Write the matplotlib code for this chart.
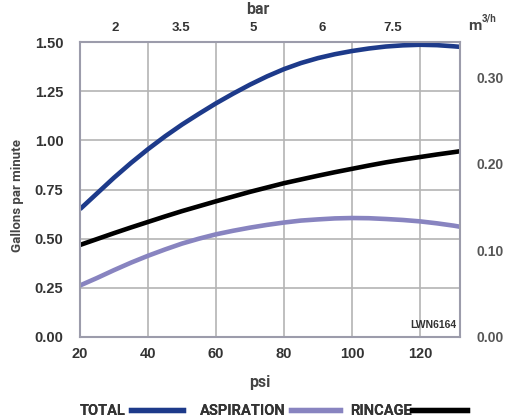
import numpy as np
import matplotlib
matplotlib.use("Agg")
import matplotlib.pyplot as plt
from matplotlib.lines import Line2D

## donnees (psi -> gallons par minute)
psi = [20, 25, 30, 35, 40, 45, 50, 55, 60, 65, 70, 75, 80, 85, 90, 95,
       100, 105, 110, 115, 120, 125, 130, 132]
total = [0.65, 0.73, 0.81, 0.885, 0.955, 1.02, 1.08, 1.135, 1.188, 1.237, 1.283, 1.325,
         1.362, 1.393, 1.418, 1.438, 1.454, 1.467, 1.477, 1.483, 1.486, 1.484, 1.478, 1.475]
aspiration = [0.262, 0.30, 0.34, 0.378, 0.413, 0.445, 0.475, 0.50, 0.522, 0.54, 0.556, 0.57,
              0.582, 0.592, 0.598, 0.603, 0.605, 0.604, 0.60, 0.595, 0.588, 0.578, 0.566, 0.56]
rincage = [0.468, 0.498, 0.528, 0.557, 0.585, 0.613, 0.64, 0.665, 0.69, 0.714, 0.738, 0.76,
           0.782, 0.801, 0.82, 0.838, 0.855, 0.872, 0.888, 0.902, 0.915, 0.928, 0.94, 0.945]

gpm_ticks = [0.0, 0.25, 0.5, 0.75, 1.0, 1.25, 1.5]
psi_ticks = [20, 40, 60, 80, 100, 120]
m3h_ticks = [0.0, 0.1, 0.2, 0.3]
bar_psi = [30.3, 49.7, 70.9, 91.2, 112]
bar_labels = ["2", "3.5", "5", "6", "7.5"]
noms = ["TOTAL", "ASPIRATION", "RINCAGE"]

c_total = "#1d3a8a"
c_asp = "#8884c0"
c_rin = "#000000"
grid_c = "#b4b4b4"
txt_c = "#333333"

fig = plt.figure(figsize=(5.07, 4.2), dpi=100)
ax = fig.add_axes([80/507, 1-337/420, 380/507, 295/420])

for y, c in zip([total, aspiration, rincage], [c_total, c_asp, c_rin]):
    ax.plot(psi, y, color=c, lw=3.3, solid_capstyle="butt", solid_joinstyle="round")

ax.set_xlim(20, 131.8)
ax.set_ylim(0, 1.5)
ax.set_xticks(psi_ticks)
ax.set_yticks(gpm_ticks)
ax.set_yticklabels(["%.2f" % v for v in gpm_ticks])
ax.grid(True, color=grid_c, lw=1.2)
ax.tick_params(length=0, labelsize=10.5, colors=txt_c)
ax.tick_params(axis="y", pad=12)
ax.tick_params(axis="x", pad=7)
for lab in ax.get_xticklabels() + ax.get_yticklabels():
    lab.set_fontfamily("Liberation Sans")
    lab.set_fontweight("bold")
for sp in ax.spines.values():
    sp.set_color("#9c9cab")
    sp.set_linewidth(1.5)

# axe du haut en bar
top = ax.twiny()
top.set_xlim(ax.get_xlim())
top.set_xticks(bar_psi)
top.set_xticklabels(bar_labels)
top.tick_params(length=0, pad=6, labelsize=9.5, colors=txt_c)
for lab in top.get_xticklabels():
    lab.set_fontfamily("Liberation Sans")
    lab.set_fontweight("bold")
for sp in top.spines.values():
    sp.set_visible(False)

# axe de droite en m3/h
right = ax.secondary_yaxis("right", functions=(lambda g: g*0.2271, lambda m: m/0.2271))
right.set_yticks(m3h_ticks)
right.set_yticklabels(["%.2f" % v for v in m3h_ticks])
right.tick_params(length=0, pad=12, labelsize=10, colors="#555555")
right.spines["right"].set_visible(False)
for lab in right.get_yticklabels():
    lab.set_fontfamily("Liberation Sans")
    lab.set_fontweight("bold")

ax.text(0.99, 0.025, "LWN6164", transform=ax.transAxes, ha="right", va="bottom",
        fontsize=7.5, color=txt_c, fontfamily="Liberation Sans", fontweight="bold")

fig.text(18/507, 1-195/420, "Gallons par minute", rotation=90, ha="center", va="center",
         fontsize=9.5, fontweight="bold", color="#444444", fontfamily="Roboto")
fig.text(260/507, 1-382/420, "psi", ha="center", va="center",
         fontsize=11.5, fontweight="bold", color="#444444", fontfamily="Roboto")
fig.text(258/507, 1-10/420, "bar", ha="center", va="center",
         fontsize=11.5, fontweight="bold", color="#444444", fontfamily="Roboto")
fig.text(468/507, 1-26/420, "m", ha="left", va="center",
         fontsize=11, fontweight="bold", color="#444444", fontfamily="Roboto")
fig.text(482/507, 1-19/420, "3/h", ha="left", va="center",
         fontsize=7, fontweight="bold", color="#444444", fontfamily="Roboto")

## legende : texte puis trait, trois morceaux
leg_x = [80, 200, 350]
leg_len = [3.6, 3.4, 3.8]
leg_pad = [0.35, 0.35, 0.0]
for nom, c, x0, hl, hp in zip(noms, [c_total, c_asp, c_rin], leg_x, leg_len, leg_pad):
    leg = fig.legend([Line2D([], [], color=c, lw=3.8)], [nom], loc="center left",
                     bbox_to_anchor=(x0/507, 1-411/420), frameon=False, markerfirst=False,
                     handlelength=hl, handletextpad=hp, borderpad=0, borderaxespad=0,
                     prop={"family": "Roboto", "weight": "bold", "size": 10.5})
    leg.get_texts()[0].set_color("#333333")
    fig.add_artist(leg)

fig.savefig("out.png", dpi=100)
